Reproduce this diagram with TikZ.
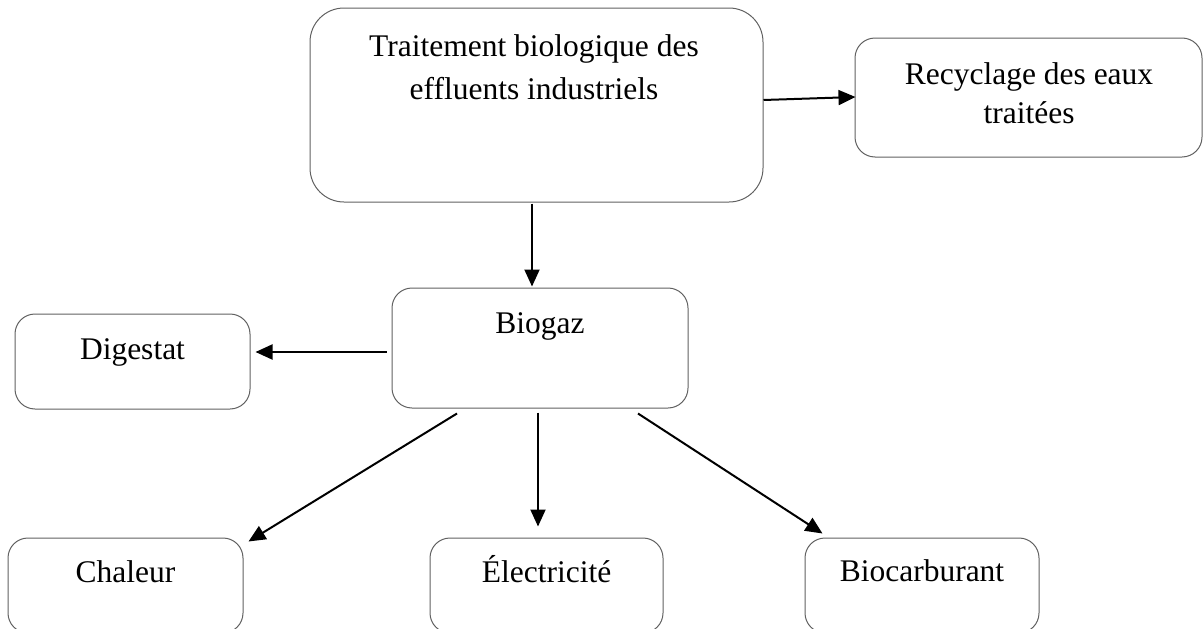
\documentclass[tikz,border=0pt]{standalone}
\usepackage{fontspec}
\setmainfont{Liberation Serif}
\usetikzlibrary{arrows.meta}
\begin{document}
\begin{tikzpicture}[x=1pt,y=-1pt,
  box/.style={draw=black!62,line width=1pt,rectangle,rounded corners=20pt,inner sep=0pt},
  bigbox/.style={box,rounded corners=34pt},
  txt/.style={font=\fontsize{31.5}{43}\selectfont,align=center,inner sep=0pt,anchor=base},
  arr/.style={draw=black,line width=2pt,-{Triangle[length=17pt,width=15pt]}}]
\useasboundingbox (0,0) rectangle (1203,629);
% boxes
\node[bigbox,minimum width=453pt,minimum height=194pt] (top) at (536.5,105) {};
\node[box,minimum width=347pt,minimum height=119pt] (rec) at (1028.5,97.5) {};
\node[box,minimum width=296pt,minimum height=120pt] (bio) at (540,348) {};
\node[box,minimum width=235pt,minimum height=95pt] (dig) at (132.5,361.5) {};
\node[box,minimum width=235pt,minimum height=95pt] (cha) at (125.5,585.5) {};
\node[box,minimum width=233pt,minimum height=95pt] (ele) at (546.5,585.5) {};
\node[box,minimum width=234pt,minimum height=95pt] (bcb) at (922,585.5) {};
% texts
\node[txt] (ttop1) at (534,56) {Traitement biologique des};
\node[txt] (ttop2) at (534,99) {effluents industriels};
\node[txt] (trec1) at (1029,84) {Recyclage des eaux};
\node[txt] (trec2) at (1029,123) {traitées};
\node[txt] (tbio) at (540,333) {Biogaz};
\node[txt] (tdig) at (132.5,359) {Digestat};
\node[txt] (tcha) at (125.5,582) {Chaleur};
\node[txt] (tele) at (546.5,582) {Électricité};
\node[txt] (tbcb) at (922,581) {Biocarburant};
% connectors
\draw[arr] ([yshift=5pt]top.east) -- ([xshift=1pt,yshift=0.5pt]rec.west);
\draw[arr] ([xshift=-4.5pt,yshift=-1pt]top.south) -- ([xshift=-8pt,yshift=1pt]bio.north);
\draw[arr] ([xshift=-5pt,yshift=-4pt]bio.west) -- ([xshift=5pt,yshift=9.5pt]dig.east);
\draw[arr] ([xshift=-83pt,yshift=-5pt]bio.south) -- ([xshift=5pt,yshift=-4pt]cha.north east);
\draw[arr] ([xshift=-2pt,yshift=-4pt]bio.south) -- ([xshift=-8.5pt,yshift=11pt]ele.north);
\draw[arr] ([xshift=98pt,yshift=-5pt]bio.south) -- ([xshift=18pt,yshift=4pt]bcb.north west);
\end{tikzpicture}
\end{document}
